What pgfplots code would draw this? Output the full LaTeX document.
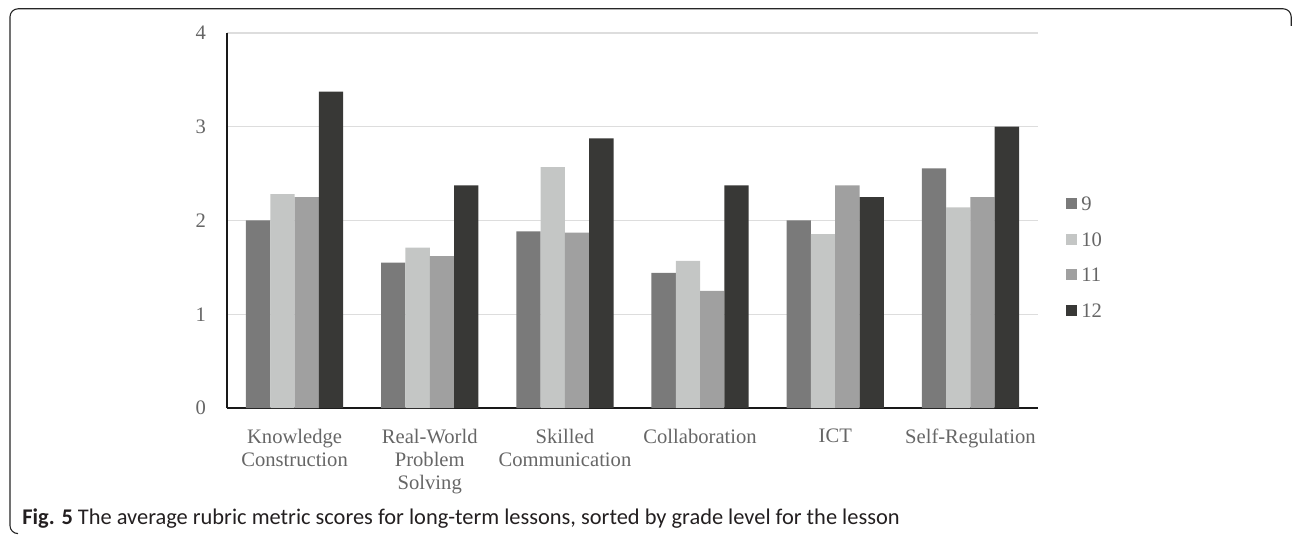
\documentclass[border=0pt]{standalone}
\usepackage{pgfplots}
\pgfplotsset{compat=1.18}
\usepackage{fontspec}
\setmainfont{Liberation Serif}
\newfontfamily\capfont{Carlito}

\definecolor{gnine}{HTML}{7A7A7A}
\definecolor{gten}{HTML}{C4C6C5}
\definecolor{geleven}{HTML}{A0A0A0}
\definecolor{gtwelve}{HTML}{383836}
\definecolor{labgray}{HTML}{666666}
\definecolor{gridgray}{HTML}{DDDDDD}
\definecolor{capink}{HTML}{231F20}

\newcommand{\lblfont}{\fontsize{10.3}{11.5}\selectfont}

\pgfplotsset{
  sq/.style={draw=none, fill=#1,
    legend image code/.code={\fill[fill=#1] (0pt,-2.75pt) rectangle (5.5pt,2.75pt);}},
}

\begin{document}
\begin{tikzpicture}[x=1pt,y=1pt]
\path[use as bounding box] (0,0) rectangle (646,268);
% panel frame
\draw[line width=0.55pt, color=black!85, rounded corners=4pt]
  (645.6,255) -- (645.6,263.6) -- (5,263.6) -- (5,1.2) -- (9,1.2);

\begin{axis}[
  at={(113.5pt,64pt)}, anchor=south west,
  scale only axis, width=405.5pt, height=187.5pt,
  xmin=-0.5, xmax=5.5, ymin=0, ymax=4,
  ybar=0pt, bar width=0.18,
  axis x line*=bottom, axis y line*=left,
  axis line style={line width=1.4pt, color=black!90, -},
  major tick length=0pt,
  xtick={0,1,2,3,4,5},
  xticklabels={{Knowledge\\Construction},{Real-World\\Problem\\Solving},{Skilled\\Communication},{Collaboration},{ICT},{Self-Regulation}},
  xticklabel style={align=center, font=\lblfont, text=labgray, yshift=-7pt},
  ytick={0,1,2,3,4},
  yticklabel style={font=\lblfont, text=labgray, xshift=-7pt},
  /pgf/number format/assume math mode=true,
  ymajorgrids, grid style={gridgray, line width=0.7pt},
  legend style={draw=none, fill=none, inner sep=0pt, at={(1.0345,0.4027)}, anchor=west,
    font=\lblfont, text=labgray, row sep=6.8pt,
    nodes={inner sep=2pt, text height=7pt, text depth=0pt}},
  legend cell align=left,
]
\addplot[sq=gnine] coordinates {(0,2.00) (1,1.55) (2,1.885) (3,1.44) (4,2.00) (5,2.556)};
\addplot[sq=gten] coordinates {(0,2.28) (1,1.71) (2,2.57) (3,1.57) (4,1.855) (5,2.14)};
\addplot[sq=geleven] coordinates {(0,2.25) (1,1.62) (2,1.87) (3,1.25) (4,2.375) (5,2.25)};
\addplot[sq=gtwelve] coordinates {(0,3.375) (1,2.375) (2,2.875) (3,2.375) (4,2.25) (5,3.00)};
\legend{9,10,11,12}
\end{axis}

\node[anchor=base west, inner sep=0pt, text=capink] at (11pt,5.75pt)
  {\capfont\fontsize{11.2}{12}\selectfont\textbf{Fig. 5} The average rubric metric scores for long-term lessons, sorted by grade level for the lesson};
\end{tikzpicture}
\end{document}
